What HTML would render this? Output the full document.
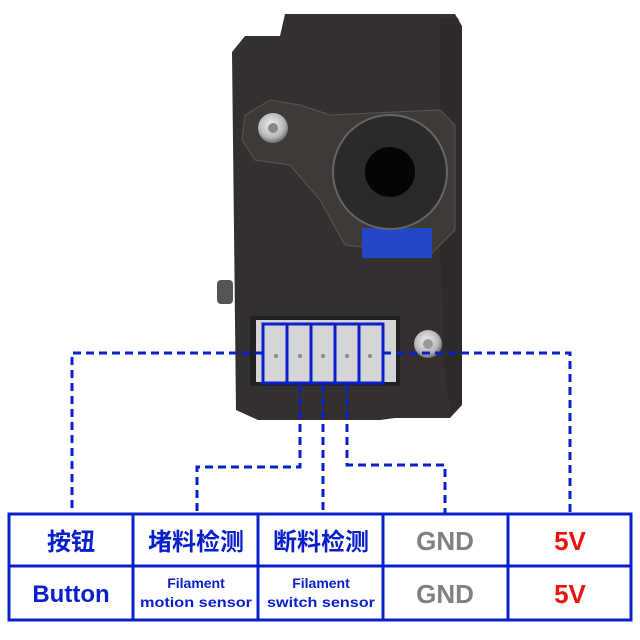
<!DOCTYPE html>
<html><head><meta charset="utf-8"><style>
html,body{margin:0;padding:0;background:#fff;width:640px;height:640px;overflow:hidden}
</style></head><body>
<svg width="640" height="640" viewBox="0 0 640 640" xmlns="http://www.w3.org/2000/svg">
<defs>
<radialGradient id="sc" cx="45%" cy="40%" r="60%"><stop offset="0" stop-color="#f2f2f2"/><stop offset="0.7" stop-color="#b8b8b8"/><stop offset="1" stop-color="#707070"/></radialGradient>
</defs>
<rect x="217" y="280" width="16" height="24" rx="4" fill="#555"/>
<polygon points="285,14 455,14 462,26 462,405 450,418 395,418 380,420 258,420 236,410 232,52 245,36 280,36" fill="#353030"/>
<polygon points="440,18 458,18 462,30 462,405 452,412 445,380 440,250" fill="#2e2a29"/>
<polygon points="245,115 270,100 300,105 330,115 440,110 455,125 455,230 430,255 345,245 320,200 290,165 255,160 242,140" fill="#3f3938" stroke="#5a5452" stroke-width="1"/>
<circle cx="273" cy="128" r="15" fill="url(#sc)"/>
<circle cx="273" cy="128" r="5" fill="#888"/>
<rect x="362" y="228" width="70" height="30" fill="#2447c8"/>
<circle cx="390" cy="172" r="57" fill="#2b2929" stroke="#666" stroke-width="2"/>
<circle cx="390" cy="172" r="25" fill="#050505"/>
<rect x="250" y="316" width="150" height="70" fill="#222"/>
<rect x="256" y="320" width="140" height="62" fill="#d5d5d5"/>
<circle cx="428" cy="344" r="14" fill="url(#sc)"/>
<circle cx="428" cy="344" r="5" fill="#999"/>
<g fill="#888"><circle cx="276" cy="356" r="2"/><circle cx="300" cy="356" r="2"/><circle cx="323" cy="356" r="2"/><circle cx="347" cy="356" r="2"/><circle cx="370" cy="356" r="2"/></g>
<g fill="none" stroke="#0a1fcc" stroke-width="3">
<rect x="263" y="324" width="120" height="59"/>
<line x1="287" y1="324" x2="287" y2="383"/><line x1="311" y1="324" x2="311" y2="383"/><line x1="335" y1="324" x2="335" y2="383"/><line x1="359" y1="324" x2="359" y2="383"/>
</g>
<g fill="none" stroke="#0a1fcc" stroke-width="3" stroke-dasharray="8,5">
<polyline points="263,353 72,353 72,513"/>
<polyline points="383,353 570,353 570,513"/>
<polyline points="300,385 300,467 197,467 197,513"/>
<polyline points="323,385 323,513"/>
<polyline points="347,385 347,465 445,465 445,513"/>
</g>
<g fill="none" stroke="#0a1fcc" stroke-width="3">
<rect x="9" y="514" width="622" height="106"/>
<line x1="9" y1="566" x2="631" y2="566"/>
<line x1="133" y1="514" x2="133" y2="620"/><line x1="258" y1="514" x2="258" y2="620"/><line x1="383" y1="514" x2="383" y2="620"/><line x1="508" y1="514" x2="508" y2="620"/>
</g>
<g font-family="Liberation Sans, Noto Sans CJK SC, sans-serif" font-weight="bold" text-anchor="middle" fill="#0a1fcc">
<text x="71" y="550" font-size="24">按钮</text>
<text x="196" y="550" font-size="24">堵料检测</text>
<text x="321" y="550" font-size="24">断料检测</text>
<text x="445" y="550" font-size="26" fill="#808080">GND</text>
<text x="570" y="550" font-size="26" fill="#ee1111">5V</text>
<text x="71" y="602" font-size="24">Button</text>
<text x="196" y="588" font-size="14">Filament</text>
<text x="196" y="607" font-size="14" textLength="112" lengthAdjust="spacingAndGlyphs">motion sensor</text>
<text x="321" y="588" font-size="14">Filament</text>
<text x="321" y="607" font-size="14" textLength="108" lengthAdjust="spacingAndGlyphs">switch sensor</text>
<text x="445" y="603" font-size="26" fill="#808080">GND</text>
<text x="570" y="603" font-size="26" fill="#ee1111">5V</text>
</g>
</svg>
</body></html>
